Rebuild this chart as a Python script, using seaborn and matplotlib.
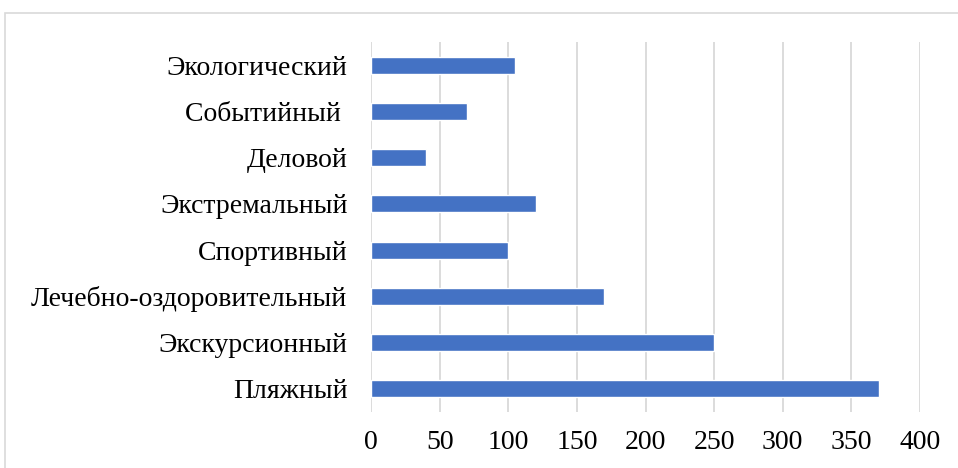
import matplotlib
matplotlib.use("Agg")
import matplotlib.pyplot as plt
import seaborn as sns
import pandas as pd
from matplotlib.patches import Rectangle

# DATA
categories = ["Экологический", "Событийный ", "Деловой", "Экстремальный",
              "Спортивный", "Лечебно-оздоровительный", "Экскурсионный", "Пляжный"]
values = [105, 70, 40, 120, 100, 170, 250, 370]
xticks = [0, 50, 100, 150, 200, 250, 300, 350, 400]

df = pd.DataFrame({"cat": categories, "val": values})

sns.set_style("white")
plt.rcParams['font.family'] = ['Liberation Serif', 'DejaVu Serif']

fig = plt.figure(figsize=(9.58, 4.68), dpi=100)
ax = fig.add_axes([0.3873, 0.1197, 0.9603 - 0.3873, 0.9103 - 0.1197])

sns.barplot(data=df, x="val", y="cat", color="#4472C4", saturation=1,
            width=0.37, ax=ax, zorder=3)

ax.set_xlim(0, 400)
ax.set_ylim(7.5, -0.5)
ax.set_xticks(xticks)
ax.set_xticklabels([str(t) for t in xticks])
ax.grid(axis="x", color="#d9d9d9", linewidth=1.3, zorder=0)
ax.set_axisbelow(True)
for s in ax.spines.values():
    s.set_visible(False)
ax.tick_params(axis="both", length=0, labelsize=20, colors="black")
ax.tick_params(axis="y", pad=17)
ax.tick_params(axis="x", pad=13)
ax.set_xlabel("")
ax.set_ylabel("")

# outer chart border (cut off at right and bottom)
fig.patches.append(Rectangle((5 / 958, -0.1), 1.2, 1 - 13 / 468 + 0.1,
                             transform=fig.transFigure, fill=False,
                             edgecolor="#d9d9d9", linewidth=1.2))

fig.savefig("out.png", dpi=100)
